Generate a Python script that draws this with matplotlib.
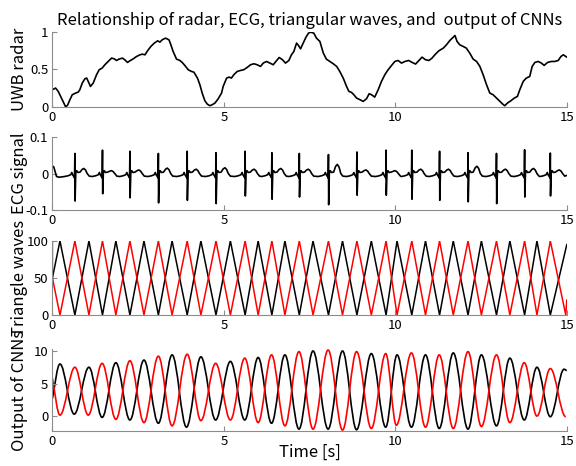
import matplotlib.pyplot as plt
from matplotlib.path import Path
from matplotlib.patches import PathPatch

plt.rcParams['font.family'] = ['Noto Sans CJK JP', 'DejaVu Sans']

# ---- UWB radar trace (time [s], normalised amplitude) ----
radar_t = [0.0, 0.092, 0.17, 0.287, 0.384, 0.44, 0.51, 0.578, 0.676, 0.753, 0.80, 0.87, 0.947, 1.0,
           1.064, 1.11, 1.19, 1.287, 1.365, 1.45, 1.53, 1.628, 1.725, 1.80, 1.87, 1.94, 2.04, 2.11,
           2.19, 2.26, 2.36, 2.455, 2.55, 2.62, 2.70, 2.774, 2.87, 2.97, 3.07, 3.134, 3.2, 3.3, 3.4,
           3.455, 3.52, 3.62, 3.717, 3.785, 3.86, 3.96, 4.056, 4.125, 4.17, 4.23, 4.3, 4.368, 4.445,
           4.515, 4.59, 4.66, 4.74, 4.835, 4.932, 4.98, 5.08, 5.155, 5.22, 5.29, 5.39, 5.49, 5.58,
           5.68, 5.78, 5.875, 5.97, 6.07, 6.147, 6.244, 6.34, 6.44, 6.516, 6.613, 6.71, 6.797, 6.895,
           6.97, 7.04, 7.12, 7.177, 7.235, 7.313, 7.39, 7.468, 7.526, 7.623, 7.70, 7.80, 7.9, 7.99,
           8.09, 8.19, 8.29, 8.38, 8.48, 8.577, 8.645, 8.72, 8.79, 8.87, 8.97, 9.063, 9.16, 9.237,
           9.305, 9.40, 9.5, 9.597, 9.694, 9.79, 9.89, 9.985, 10.08, 10.18, 10.28, 10.39, 10.49,
           10.59, 10.69, 10.78, 10.88, 10.98, 11.07, 11.17, 11.27, 11.40, 11.49, 11.59, 11.66, 11.74,
           11.80, 11.88, 11.98, 12.07, 12.17, 12.27, 12.37, 12.466, 12.56, 12.66, 12.755, 12.85,
           12.95, 13.05, 13.13, 13.19, 13.27, 13.37, 13.47, 13.56, 13.63, 13.73, 13.82, 13.92, 13.99,
           14.07, 14.166, 14.26, 14.34, 14.44, 14.55, 14.65, 14.75, 14.83, 14.9, 15.0]
radar_v = [0.228, 0.25, 0.205, 0.094, 0.0, 0.018, 0.094, 0.16, 0.183, 0.196, 0.228, 0.317, 0.375, 0.384,
           0.317, 0.272, 0.317, 0.429, 0.496, 0.518, 0.563, 0.607, 0.652, 0.643, 0.62, 0.638, 0.652, 0.63,
           0.594, 0.616, 0.643, 0.674, 0.696, 0.705, 0.696, 0.75, 0.808, 0.853, 0.884, 0.866, 0.897, 0.92,
           0.897, 0.83, 0.741, 0.638, 0.62, 0.594, 0.554, 0.496, 0.473, 0.464, 0.429, 0.384, 0.295, 0.183,
           0.08, 0.036, 0.013, 0.027, 0.049, 0.107, 0.183, 0.273, 0.384, 0.397, 0.384, 0.429, 0.473,
           0.487, 0.496, 0.527, 0.563, 0.576, 0.563, 0.54, 0.585, 0.607, 0.585, 0.563, 0.607, 0.66, 0.63,
           0.585, 0.62, 0.696, 0.741, 0.853, 0.821, 0.776, 0.853, 0.929, 0.987, 1.0, 0.987, 0.92, 0.875,
           0.719, 0.638, 0.607, 0.576, 0.54, 0.473, 0.384, 0.273, 0.206, 0.192, 0.161, 0.116, 0.094,
           0.071, 0.107, 0.174, 0.161, 0.129, 0.228, 0.34, 0.429, 0.496, 0.554, 0.607, 0.62, 0.585,
           0.607, 0.62, 0.594, 0.572, 0.62, 0.665, 0.63, 0.62, 0.652, 0.705, 0.75, 0.786, 0.83, 0.888,
           0.92, 0.955, 0.875, 0.83, 0.808, 0.786, 0.719, 0.638, 0.607, 0.54, 0.429, 0.295, 0.183, 0.161,
           0.116, 0.071, 0.036, 0.013, 0.049, 0.08, 0.116, 0.138, 0.228, 0.34, 0.384, 0.406, 0.54, 0.594,
           0.607, 0.585, 0.554, 0.594, 0.607, 0.607, 0.62, 0.674, 0.696, 0.665]

# ---- ECG: R-peak times and per-beat amplitudes ----
r_times = [0.655, 1.46, 2.26, 3.09, 3.93, 4.77, 5.62, 6.40, 7.20, 8.05, 8.88, 9.73, 10.48, 11.29,
           12.12, 12.95, 13.77, 14.52]
r_amp = [0.055, 0.064, 0.061, 0.055, 0.061, 0.057, 0.061, 0.057, 0.055, 0.052, 0.059, 0.064, 0.064,
         0.061, 0.057, 0.055, 0.065, 0.056]
s_amp = [-0.075, -0.055, -0.066, -0.08, -0.073, -0.082, -0.061, -0.07, -0.064, -0.085, -0.059, -0.059,
         -0.07, -0.073, -0.077, -0.082, -0.064, -0.061]
t_amp = [0.014, 0.008, 0.010, 0.015, 0.012, 0.016, 0.012, 0.014, 0.012, 0.025, 0.010, 0.008, 0.012,
         0.012, 0.020, 0.012, 0.014, 0.010]
beat_dt = [-0.30, -0.20, -0.12, -0.09, -0.06, -0.025, -0.010, 0.0, 0.006, 0.025, 0.040, 0.060, 0.090,
           0.150, 0.210, 0.260, 0.310, 0.360, 0.420]
ecg_head_t = [0.0, 0.04, 0.12, 0.2]
ecg_head_v = [0.021, 0.018, -0.008, -0.010]

# ---- triangle waves: black peaks / black troughs (= red peaks) ----
tri_peak_t = [0.22, 1.065, 1.85, 2.67, 3.49, 4.33, 5.19, 6.00, 6.78, 7.60, 8.46, 9.30, 10.05, 10.88,
              11.69, 12.51, 13.34, 14.13]
tri_trough_t = r_times

# ---- CNN outputs: extrema (time, value) ----
cnn_black_t = [0.0, 0.22, 0.636, 1.065, 1.45, 1.85, 2.26, 2.67, 3.09, 3.49, 3.91, 4.33, 4.76, 5.19,
               5.61, 6.00, 6.39, 6.78, 7.19, 7.60, 8.04, 8.46, 8.87, 9.30, 9.72, 10.05, 10.47, 10.88,
               11.28, 11.69, 12.12, 12.51, 12.95, 13.34, 13.76, 14.13, 14.52, 14.92, 15.0]
cnn_black_v = [2.7, 8.0, 0.3, 7.5, -0.2, 8.2, -0.6, 8.6, -1.1, 9.4, -1.7, 9.1, -0.6, 8.4, -0.6, 9.0,
               -1.1, 9.4, -2.0, 10.0, -2.0, 10.0, -2.1, 9.6, -1.7, 9.4, -1.7, 9.4, -1.9, 9.7, -2.0, 9.4,
               -1.5, 8.9, -0.6, 7.5, -0.1, 7.2, 7.0]
cnn_red_t = [0.0, 0.22, 0.655, 1.045, 1.45, 1.85, 2.26, 2.67, 3.09, 3.49, 3.93, 4.33, 4.76, 5.19, 5.61,
             6.00, 6.39, 6.78, 7.19, 7.60, 8.04, 8.46, 8.87, 9.30, 9.72, 10.03, 10.47, 10.88, 11.28,
             11.69, 12.12, 12.51, 12.95, 13.34, 13.76, 14.13, 14.52, 14.97]
cnn_red_v = [5.8, 0.15, 7.5, 0.15, 8.1, -0.5, 8.5, -1.0, 9.2, -1.5, 9.5, -0.7, 8.1, -0.6, 8.9, -1.0, 9.4,
             -1.5, 9.9, -2.0, 10.15, -2.15, 9.9, -1.9, 9.6, -1.4, 9.7, -1.7, 9.4, -1.9, 9.9, -1.6, 9.4,
             -1.0, 8.2, 0.0, 7.3, -0.1]


def ecg_series():
    ts, vs = list(ecg_head_t), list(ecg_head_v)
    for rt, R, S, T in zip(r_times, r_amp, s_amp, t_amp):
        shape = [-0.008, -0.006, -0.003, 0.003, -0.004, -0.009, -0.012, R, S, 0.0, 0.008, 0.007,
                 0.003, 0.004, 0.8 * T, T, 0.7 * T, 0.0, -0.007]
        for dt, v in zip(beat_dt, shape):
            if 0 <= rt + dt <= 15 and rt + dt > ts[-1]:
                ts.append(rt + dt)
                vs.append(v)
    ts.append(15.0)
    vs.append(-0.005)
    return ts, vs


def tri_series():
    pts = sorted([(t, 100) for t in tri_peak_t] + [(t, 0) for t in tri_trough_t])
    bt = [0.0] + [p[0] for p in pts] + [15.0]
    bv = [50] + [p[1] for p in pts] + [95]
    rt = [0.0, 0.0] + [p[0] for p in pts] + [14.97, 15.0]
    rv = [100, 50] + [100 - p[1] for p in pts] + [0, 20]
    return bt, bv, rt, rv


def wave_path(ts, vs):
    verts = [(ts[0], vs[0])]
    codes = [Path.MOVETO]
    for i in range(len(ts) - 1):
        t0, v0, t1, v1 = ts[i], vs[i], ts[i + 1], vs[i + 1]
        d = (t1 - t0) * 0.36
        c0 = v0 + 0.4 * (v1 - v0) if i == 0 else v0
        verts += [(t0 + d, c0), (t1 - d, v1), (t1, v1)]
        codes += [Path.CURVE4] * 3
    return Path(verts, codes)


fig = plt.figure(figsize=(5.76, 4.66), dpi=100)
left, width = 0.091, 0.893
rects = [(left, 0.771, width, 0.160), (left, 0.549, width, 0.157),
         (left, 0.324, width, 0.159), (left, 0.075, width, 0.176)]
axes = [fig.add_axes(r) for r in rects]

axc = '#8c8c8c'
for ax in axes:
    ax.set_xlim(0, 15)
    ax.set_xticks([0, 5, 10, 15])
    for s in ['top', 'right']:
        ax.spines[s].set_visible(False)
    for s in ['left', 'bottom']:
        ax.spines[s].set_color(axc)
        ax.spines[s].set_linewidth(0.8)
    ax.tick_params(direction='in', length=3.5, width=0.8, color=axc, labelsize=9.5, pad=3)

ax1, ax2, ax3, ax4 = axes
ax1.plot(radar_t, radar_v, color='black', lw=1.2)
ax1.set_ylim(0, 1)
ax1.set_yticks([0, 0.5, 1])
ax1.set_yticklabels(['0', '0.5', '1'])
ax1.set_ylabel('UWB radar', fontsize=12)
ax1.set_title('Relationship of radar, ECG, triangular waves, and  output of CNNs', fontsize=12, pad=5)

et, ev = ecg_series()
ax2.plot(et, ev, color='black', lw=1.2)
ax2.set_ylim(-0.1, 0.1)
ax2.set_yticks([-0.1, 0, 0.1])
ax2.set_yticklabels(['-0.1', '0', '0.1'])
ax2.set_ylabel('ECG signal', fontsize=12)

bt, bv, rt, rv = tri_series()
ax3.plot(bt, bv, color='black', lw=1.1)
ax3.plot(rt, rv, color='red', lw=1.1)
ax3.set_ylim(0, 100)
ax3.set_yticks([0, 50, 100])
ax3.set_ylabel('Triangle waves', fontsize=12)

ax4.add_patch(PathPatch(wave_path(cnn_black_t, cnn_black_v), fill=False, edgecolor='black', lw=1.2))
ax4.add_patch(PathPatch(wave_path(cnn_red_t, cnn_red_v), fill=False, edgecolor='red', lw=1.2))
ax4.set_ylim(-2.3, 10.3)
ax4.set_yticks([0, 5, 10])
ax4.set_ylabel('Output of CNNs', fontsize=12)
ax4.set_xlabel('Time [s]', fontsize=12, labelpad=-3)

for ax in axes:
    ax.yaxis.set_label_coords(-0.048, 0.5)

fig.savefig('out.png', dpi=100)
